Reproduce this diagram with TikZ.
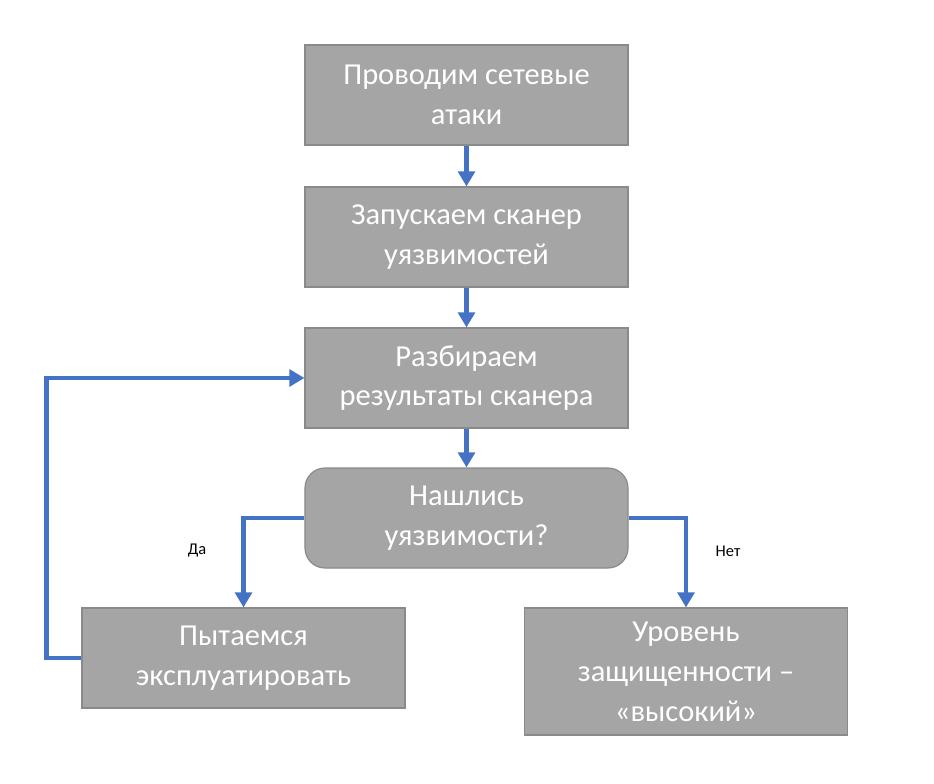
\documentclass[tikz,border=0pt]{standalone}
\usepackage{fontspec}
\setmainfont{Carlito}
\usetikzlibrary{arrows.meta, positioning, calc}
\definecolor{boxgray}{HTML}{A5A5A5}
\definecolor{boxline}{HTML}{8A8A8A}
\definecolor{flowblue}{HTML}{4472C4}
\tikzset{
    stepbox/.style={rectangle, draw=boxline, line width=1pt, fill=boxgray,
      text=white, align=center, minimum width=9.69cm, minimum height=3cm,
      font=\fontsize{26}{34}\selectfont},
    choice/.style={stepbox, rounded corners=0.6cm},
    flow/.style={draw=flowblue, line width=4.2pt, -{Triangle[length=0.45cm, width=0.5cm]}},
    tag/.style={font=\fontsize{14}{16}\selectfont},
}
\begin{document}
\begin{tikzpicture}[x=0.03cm, y=-0.03cm]
    \useasboundingbox (0,0) rectangle (934,783);

    \node[stepbox] (attack) at (466.5,95) {Проводим сетевые\\атаки};
    \node[stepbox] (scan) at (466.5,237) {Запускаем сканер\\уязвимостей};
    \node[stepbox] (parse) at (466.5,378) {Разбираем\\результаты сканера};
    \node[choice] (found) at (466.5,518) {Нашлись\\уязвимости?};
    \node[stepbox] (exploit) at (243.5,658) {Пытаемся\\эксплуатировать};
    \node[stepbox, minimum height=3.81cm] (high) at (686,671.5) {Уровень\\защищенности –\\«высокий»};

    \node[tag] (yes) at (197,551) {Да};
    \node[tag] (no) at (728,551) {Нет};

    \draw[flow] (attack) -- (scan);
    \draw[flow] (scan) -- (parse);
    \draw[flow] (parse) -- (found);
    \draw[flow] (found.west) -| (exploit.north);
    \draw[flow] (found.east) -| (high.north);
    \draw[flow] (exploit.west) -- ++(-35,0) |- (parse.west);
\end{tikzpicture}
\end{document}
